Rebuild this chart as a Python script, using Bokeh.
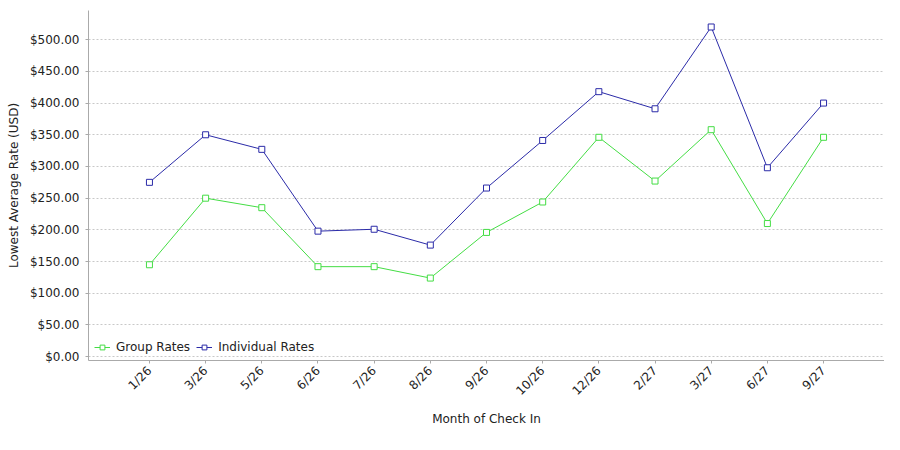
import math
from bokeh.plotting import figure
from bokeh.models import (ColumnDataSource, FactorRange, Range1d, NumeralTickFormatter,
                          Legend, LegendItem, SingleIntervalTicker)
from bokeh.embed import file_html
from bokeh.resources import INLINE

months = ["1/26", "3/26", "5/26", "6/26", "7/26", "8/26", "9/26", "10/26",
          "12/26", "2/27", "3/27", "6/27", "9/27"]
group_rates = [145, 250, 235, 142, 142, 124, 196, 244, 346, 277, 358, 210, 346]
individual_rates = [275, 350, 327, 198, 201, 176, 266, 341, 418, 391, 520, 298, 400]

FONT = "DejaVu Sans"
GREEN = "#44dd44"
BLUE = "#2b2ba8"

src = ColumnDataSource(dict(m=months, g=group_rates, i=individual_rates))

p = figure(width=884, height=434, output_backend="svg", toolbar_location=None,
           x_range=FactorRange(*months, range_padding=0.585, range_padding_units="absolute"),
           y_range=Range1d(-6, 546),
           min_border_left=88, min_border_right=0, min_border_top=10, min_border_bottom=74)
p.outline_line_color = None
p.background_fill_color = "white"

lg = p.line("m", "g", source=src, color=GREEN, line_width=1)
sg = p.scatter("m", "g", source=src, marker="square", size=6, line_color=GREEN,
               fill_color="white", line_width=1)
li = p.line("m", "i", source=src, color=BLUE, line_width=1)
si = p.scatter("m", "i", source=src, marker="square", size=6, line_color=BLUE,
               fill_color="white", line_width=1)

p.yaxis.ticker = SingleIntervalTicker(interval=50)
p.yaxis.formatter = NumeralTickFormatter(format="$0,0.00")
p.yaxis.axis_label = "Lowest Average Rate (USD)"
p.xaxis.axis_label = "Month of Check In"
for ax in (p.xaxis, p.yaxis):
    ax.axis_line_color = "#aaaaaa"
    ax.major_tick_line_color = "#aaaaaa"
    ax.major_tick_out = 3
    ax.major_tick_in = 0
    ax.minor_tick_line_color = None
    ax.major_label_text_font = FONT
    ax.major_label_text_font_size = "12px"
    ax.major_label_text_color = "#222222"
    ax.axis_label_text_font = FONT
    ax.axis_label_text_font_size = "12px"
    ax.axis_label_text_font_style = "normal"
    ax.axis_label_text_color = "#222222"
p.xaxis.major_label_orientation = math.pi / 4
p.xaxis.major_label_standoff = 5
p.xaxis.axis_label_standoff = 6
p.yaxis.axis_label_standoff = 6

p.xgrid.grid_line_color = None
p.ygrid.grid_line_color = "#c8c8c8"
p.ygrid.grid_line_dash = "2 2"

legend = Legend(items=[LegendItem(label="Group Rates", renderers=[lg, sg]),
                       LegendItem(label="Individual Rates", renderers=[li, si])],
                orientation="horizontal", location="bottom_left",
                label_text_font=FONT, label_text_font_size="12px", label_text_color="#222222",
                glyph_width=16, glyph_height=12, label_height=12, label_standoff=6,
                spacing=6, padding=2, margin=6, border_line_color=None,
                background_fill_color="white", background_fill_alpha=1)
p.add_layout(legend)

open("out.html", "w").write(file_html(p, INLINE))
